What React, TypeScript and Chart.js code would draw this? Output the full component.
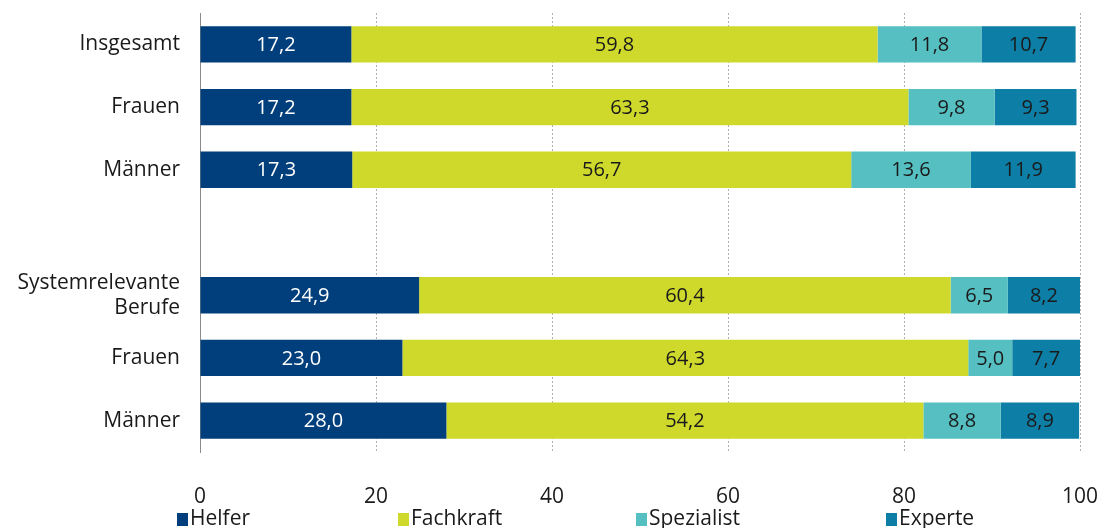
import React, { useEffect, useRef } from "react";
import { Chart, registerables } from "chart.js";

Chart.register(...registerables);

const categories: (string | string[])[] = [
  "Insgesamt",
  "Frauen",
  "Männer",
  "",
  ["Systemrelevante", "Berufe"],
  "Frauen",
  "Männer",
];

const helfer = [17.2, 17.2, 17.3, null, 24.9, 23.0, 28.0];
const fachkraft = [59.8, 63.3, 56.7, null, 60.4, 64.3, 54.2];
const spezialist = [11.8, 9.8, 13.6, null, 6.5, 5.0, 8.8];
const experte = [10.7, 9.3, 11.9, null, 8.2, 7.7, 8.9];

const seriesNames = ["Helfer", "Fachkraft", "Spezialist", "Experte"];
const colors = ["#003F7B", "#CFD92C", "#55BFC1", "#0D7EA5"];
const labelColors = ["#ffffff", "#1a1a1a", "#1a1a1a", "#1a1a1a"];
const xTicks = [0, 20, 40, 60, 80, 100];

const FONT = "'Open Sans', 'Noto Sans', sans-serif";

const valueLabels = {
  id: "valueLabels",
  afterDatasetsDraw(chart: any) {
    const ctx = chart.ctx;
    ctx.save();
    ctx.font = `20px ${FONT}`;
    ctx.textAlign = "center";
    ctx.textBaseline = "middle";
    chart.data.datasets.forEach((ds: any, di: number) => {
      const meta = chart.getDatasetMeta(di);
      meta.data.forEach((bar: any, i: number) => {
        const v = ds.data[i];
        if (v == null) return;
        const x = (bar.x + bar.base) / 2;
        ctx.fillStyle = labelColors[di];
        ctx.fillText(v.toFixed(1).replace(".", ","), x, bar.y + 1);
      });
    });
    ctx.restore();
  },
};

const customLegend = {
  id: "customLegend",
  afterDraw(chart: any) {
    const ctx = chart.ctx;
    const area = chart.chartArea;
    const offsets = [-23, 198, 436, 686];
    ctx.save();
    ctx.font = `21px ${FONT}`;
    ctx.textAlign = "left";
    ctx.textBaseline = "middle";
    const y = 519;
    seriesNames.forEach((name, i) => {
      const x = area.left + offsets[i];
      ctx.fillStyle = colors[i];
      ctx.fillRect(x, y - 6, 11, 13);
      ctx.fillStyle = "#1a1a1a";
      ctx.fillText(name, x + 13, y);
    });
    ctx.restore();
  },
};

export default function App() {
  const ref = useRef<HTMLCanvasElement>(null);
  useEffect(() => {
    if (!ref.current) return;
    const data = [helfer, fachkraft, spezialist, experte];
    const chart = new Chart(ref.current, {
      type: "bar",
      data: {
        labels: categories,
        datasets: seriesNames.map((name, i) => ({
          label: name,
          data: data[i] as any,
          backgroundColor: colors[i],
          borderWidth: 0,
          barPercentage: 0.58,
          categoryPercentage: 1,
        })),
      },
      options: {
        indexAxis: "y",
        animation: false,
        responsive: false,
        maintainAspectRatio: false,
        layout: { padding: { top: 13, right: 24, left: 0, bottom: 0 } },
        plugins: {
          legend: { display: false },
          tooltip: { enabled: false },
        },
        scales: {
          x: {
            stacked: true,
            min: 0,
            max: 100,
            afterBuildTicks: (scale: any) => {
              scale.ticks = xTicks.map((v) => ({ value: v }));
            },
            afterFit: (scale: any) => {
              scale.height = 76;
              scale.paddingLeft = 0;
              scale.paddingRight = 0;
            },
            grid: {
              display: true,
              drawTicks: false,
              color: "#b0b0b0",
              lineWidth: 1,
            },
            border: { display: false, dash: [2, 2] },
            ticks: {
              padding: 32,
              color: "#1a1a1a",
              font: { family: FONT, size: 21 },
            },
          },
          y: {
            stacked: true,
            afterFit: (scale: any) => {
              scale.width = 200;
              scale.paddingTop = 0;
              scale.paddingBottom = 0;
            },
            grid: { display: false, drawTicks: false },
            border: { display: true, color: "#8a8a8a", width: 1 },
            ticks: {
              padding: 20,
              color: "#1a1a1a",
              font: { family: FONT, size: 21, lineHeight: 1.2 },
            },
          },
        },
      },
      plugins: [valueLabels, customLegend],
    });
    return () => chart.destroy();
  }, []);

  return (
    <div style={{ position: "fixed", left: 0, top: 0, width: 1104, height: 528, background: "#fff" }}>
      <canvas ref={ref} width={1104} height={528} style={{ width: 1104, height: 528 }} />
    </div>
  );
}
